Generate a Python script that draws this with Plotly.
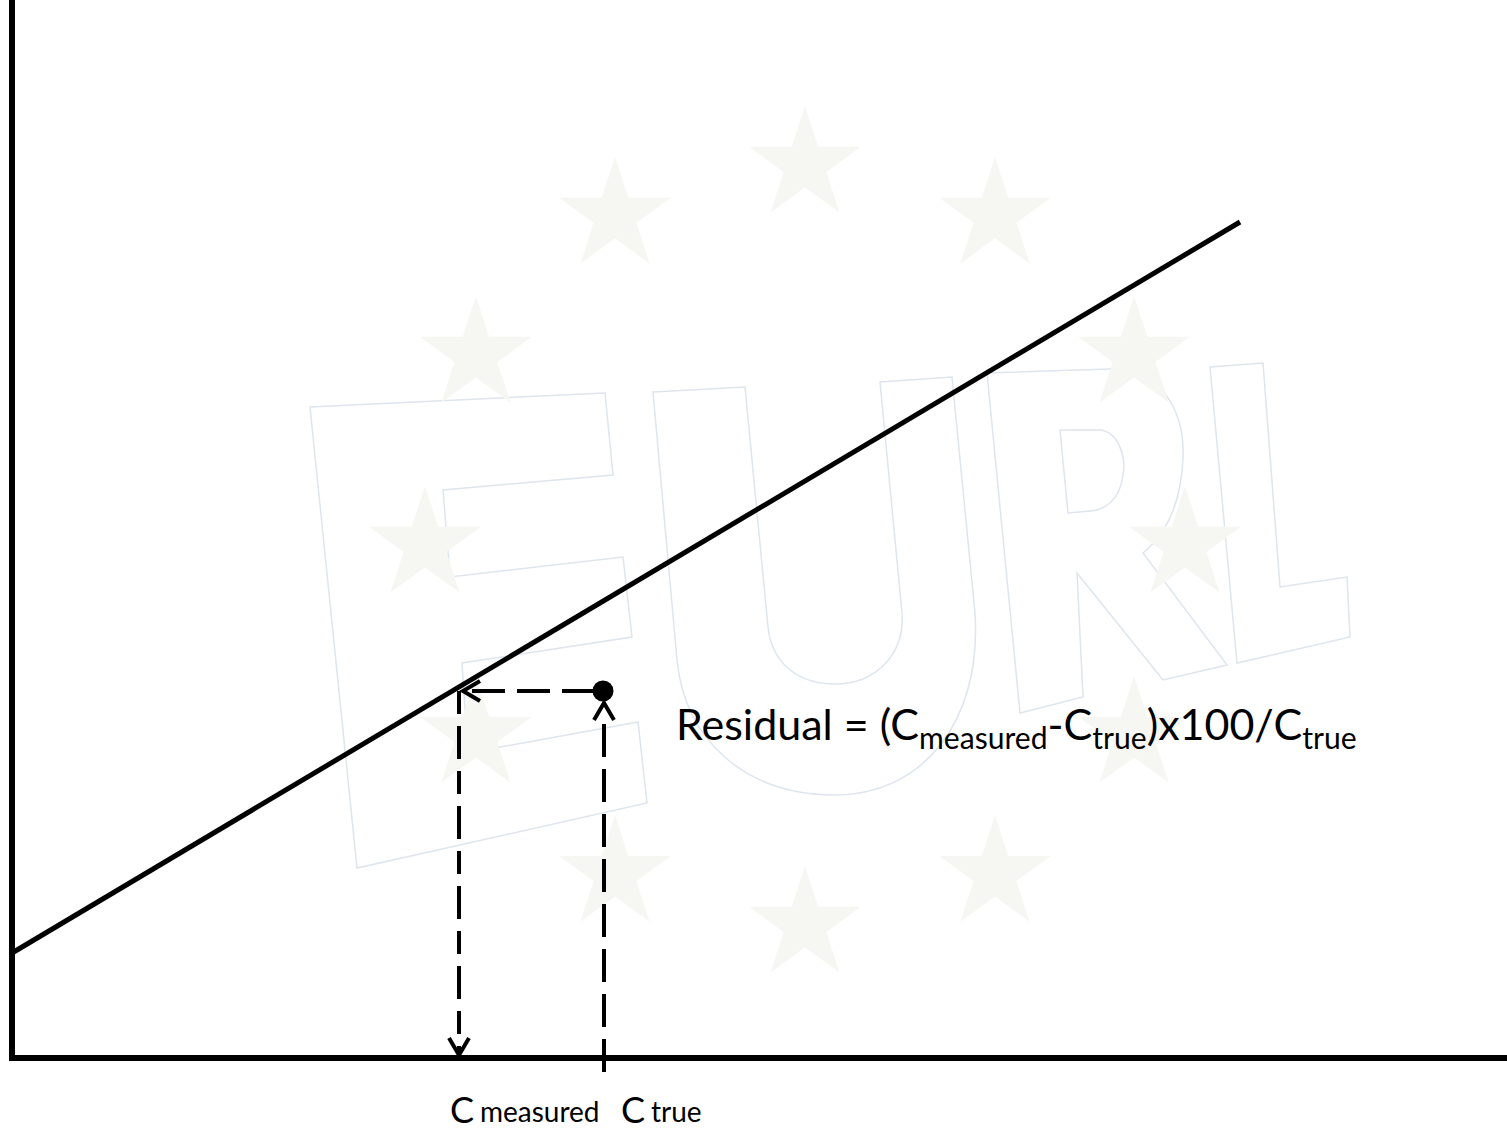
import math
import plotly.graph_objects as go

# ---- diagram data (origin = axis corner, 1 unit = 1 px) ----
axis_x_end = 1495
axis_y_end = 1058
reg_x = [0, 1228]
reg_y = [105, 836]
c_measured = 447
c_true = 591
y_point = 367
y_axis_level = 0
c_true_line_bottom = -14

W, H = 1507, 1131
X0, Y0 = 12, 1058  # pixel position of origin


def P(px, py):
    return px - X0, Y0 - py


fig = go.Figure()

# ---- faint watermark: stars ----
star_cx, star_cy, star_r = 805, 545, 380
sx, sy = [], []
for k in range(12):
    a = math.radians(30 * k)
    x, y = P(star_cx + star_r * math.sin(a), star_cy - star_r * math.cos(a))
    sx.append(x); sy.append(y)
fig.add_trace(go.Scatter(x=sx, y=sy, mode="markers",
                         marker=dict(symbol="star", size=84, color="#f6f6f2",
                                     line=dict(width=0)),
                         hoverinfo="skip", showlegend=False))

# ---- faint watermark: EURL letter outlines ----
def path(cmds):
    out = []
    for c in cmds:
        if isinstance(c, str):
            out.append(c)
        else:
            x, y = P(*c)
            out.append(f"{x:.1f},{y:.1f}")
    return " ".join(out)

E = ["M", (310, 407), "L", (605, 393), "L", (613, 475), "L", (443, 490), "L", (450, 577),
     "L", (623, 557), "L", (632, 637), "L", (462, 663), "L", (468, 753), "L", (638, 722),
     "L", (647, 803), "L", (357, 868), "Z"]
U = ["M", (653, 392), "L", (745, 387), "L", (768, 627),
     "C", (772, 665), (800, 684), (835, 684), "C", (875, 684), (905, 655), (902, 613),
     "L", (880, 382), "L", (952, 377), "L", (975, 613),
     "C", (982, 725), (920, 795), (835, 795), "C", (745, 795), (685, 740), (677, 660), "Z"]
R = ["M", (987, 373), "L", (1110, 369), "C", (1160, 368), (1185, 410), (1183, 458),
     "C", (1181, 505), (1165, 535), (1143, 553), "L", (1227, 665), "L", (1163, 680),
     "L", (1077, 573), "L", (1083, 697), "L", (1020, 713), "Z",
     "M", (1060, 430), "L", (1100, 430), "C", (1120, 432), (1126, 460), (1123, 475),
     "C", (1120, 500), (1105, 510), (1090, 511), "L", (1068, 513), "Z"]
L = ["M", (1210, 367), "L", (1263, 363), "L", (1280, 587), "L", (1347, 577), "L", (1350, 637),
     "L", (1237, 663), "Z"]
for shp in (E, U, R, L):
    fig.add_shape(type="path", path=path(shp), xref="x", yref="y", layer="below",
                  line=dict(color="#dde5ee", width=1.5), fillcolor="rgba(0,0,0,0)")

# ---- axes ----
fig.add_trace(go.Scatter(x=[0, 0, axis_x_end], y=[axis_y_end, 0, 0], mode="lines",
                         line=dict(color="black", width=6), hoverinfo="skip", showlegend=False))

# ---- calibration line ----
fig.add_trace(go.Scatter(x=reg_x, y=reg_y, mode="lines",
                         line=dict(color="black", width=5), hoverinfo="skip", showlegend=False))

dash = "33px,12px"
# horizontal dashed from point to line
fig.add_trace(go.Scatter(x=[c_true - 8, c_measured + 6], y=[y_point, y_point], mode="lines",
                         line=dict(color="black", width=4, dash=dash), hoverinfo="skip", showlegend=False))
# vertical dashed from line down to C measured
fig.add_trace(go.Scatter(x=[c_measured, c_measured], y=[y_point, y_axis_level + 4], mode="lines",
                         line=dict(color="black", width=4, dash="23px,12px,33px,12px"),
                         hoverinfo="skip", showlegend=False))
# vertical dashed from C true up to point
fig.add_trace(go.Scatter(x=[c_true + 1, c_true + 1], y=[c_true_line_bottom, y_point - 26], mode="lines",
                         line=dict(color="black", width=4, dash=dash), hoverinfo="skip", showlegend=False))

# arrowheads (open V)
ah, aw = 17, 10
arrows_x = [c_measured + 4 + ah, c_measured + 4, c_measured + 4 + ah, None,
            c_measured - aw, c_measured, c_measured + aw, None,
            c_true + 1 - aw, c_true + 1, c_true + 1 + aw]
arrows_y = [y_point + aw, y_point, y_point - aw, None,
            y_axis_level + 3 + ah, y_axis_level + 3, y_axis_level + 3 + ah, None,
            y_point - 12 - ah, y_point - 12, y_point - 12 - ah]
fig.add_trace(go.Scatter(x=arrows_x, y=arrows_y, mode="lines",
                         line=dict(color="black", width=4), hoverinfo="skip", showlegend=False))

# measured point
fig.add_trace(go.Scatter(x=[c_true], y=[y_point], mode="markers",
                         marker=dict(color="black", size=21), hoverinfo="skip", showlegend=False))

FONT = "Lato"
fig.add_annotation(x=675 - X0, y=Y0 - 726, xref="x", yref="y",
                   text="Residual = (C<sub>measured</sub>-C<sub>true</sub>)x100/C<sub>true</sub>",
                   showarrow=False, xanchor="left", yanchor="middle", borderpad=0,
                   font=dict(family=FONT, size=43, color="black"))

# axis labels under the x axis
lab_y = Y0 - 1109
fig.add_annotation(x=449 - X0, y=lab_y, xref="x", yref="y", text="C", showarrow=False,
                   xanchor="left", yanchor="middle", borderpad=0,
                   font=dict(family=FONT, size=36, color="black"))
fig.add_annotation(x=479 - X0, y=lab_y - 2, xref="x", yref="y", text="measured", showarrow=False,
                   xanchor="left", yanchor="middle", borderpad=0,
                   font=dict(family=FONT, size=28, color="black"))
fig.add_annotation(x=620 - X0, y=lab_y, xref="x", yref="y", text="C", showarrow=False,
                   xanchor="left", yanchor="middle", borderpad=0,
                   font=dict(family=FONT, size=36, color="black"))
fig.add_annotation(x=650 - X0, y=lab_y - 2, xref="x", yref="y", text="true", showarrow=False,
                   xanchor="left", yanchor="middle", borderpad=0,
                   font=dict(family=FONT, size=28, color="black"))

fig.update_layout(
    width=W, height=H, margin=dict(l=0, r=0, t=0, b=0),
    paper_bgcolor="white", plot_bgcolor="white", showlegend=False,
    xaxis=dict(range=[-X0, W - X0], visible=False, fixedrange=True),
    yaxis=dict(range=[Y0 - H, Y0], visible=False, fixedrange=True),
)

fig.write_html("out.html")
